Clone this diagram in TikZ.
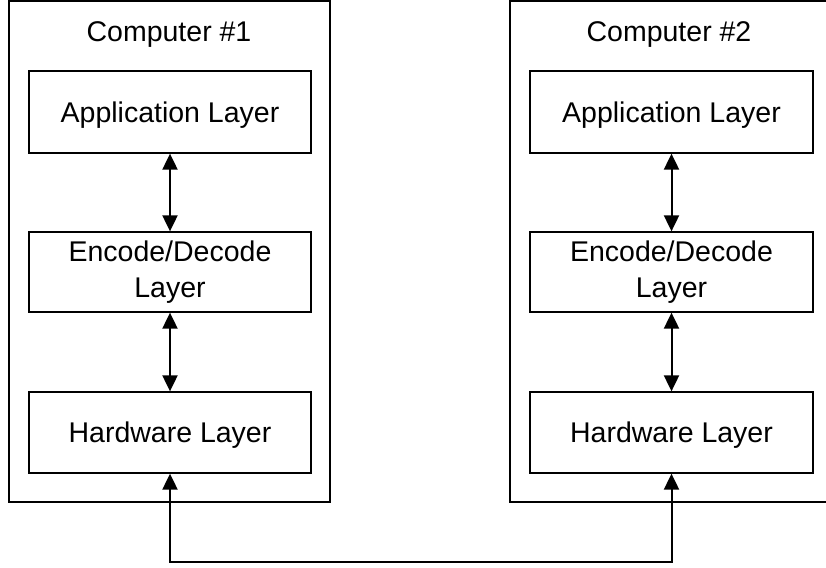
\documentclass[tikz,border=0pt]{standalone}
\usepackage{fontspec}
\setmainfont{Liberation Sans}
\usetikzlibrary{arrows.meta}
\tikzset{
  outerbox/.style={draw, line width=1.3pt, rectangle, inner sep=0pt},
  layerbox/.style={draw, line width=1.3pt, rectangle, inner sep=0pt, align=center,
    font=\fontsize{28.5}{36}\selectfont},
  title/.style={font=\fontsize{28.5}{36}\selectfont, anchor=base, inner sep=0pt},
  conn/.style={line width=2pt, {Triangle[length=16pt,width=15pt]}-{Triangle[length=16pt,width=15pt]}},
}
\begin{document}
\begin{tikzpicture}[x=1pt,y=-1pt]
\clip (0,0) rectangle (826,567);
\fill[white] (0,0) rectangle (826,567);
% Computer 1
\node[outerbox, minimum width=321pt, minimum height=501pt] (c1) at (169.5,251.5) {};
\node[title] (t1) at (169,42) {Computer \#1};
\node[layerbox, minimum width=282pt, minimum height=82pt, text height=24pt, text depth=4pt] (app1) at (170,112) {Application Layer};
\node[layerbox, minimum width=282pt, minimum height=80pt] (enc1) at (170,272) {Encode/Decode\\Layer};
\node[layerbox, minimum width=282pt, minimum height=81pt, text height=24pt, text depth=4pt] (hw1) at (170,432.5) {Hardware Layer};
% Computer 2
\node[outerbox, minimum width=321pt, minimum height=501pt] (c2) at (670.5,251.5) {};
\node[title] (t2) at (669,42) {Computer \#2};
\node[layerbox, minimum width=283pt, minimum height=82pt, text height=24pt, text depth=4pt] (app2) at (671.5,112) {Application Layer};
\node[layerbox, minimum width=283pt, minimum height=80pt] (enc2) at (671.5,272) {Encode/Decode\\Layer};
\node[layerbox, minimum width=283pt, minimum height=81pt, text height=24pt, text depth=4pt] (hw2) at (671.5,432.5) {Hardware Layer};
% connectors
\draw[conn] (app1.south) -- (enc1.north);
\draw[conn] (enc1.south) -- (hw1.north);
\draw[conn] (app2.south) -- (enc2.north);
\draw[conn] (enc2.south) -- (hw2.north);
\coordinate (bot) at (420,562);
\draw[conn] (hw1.south) |- (bot) -| (hw2.south);
\end{tikzpicture}
\end{document}
